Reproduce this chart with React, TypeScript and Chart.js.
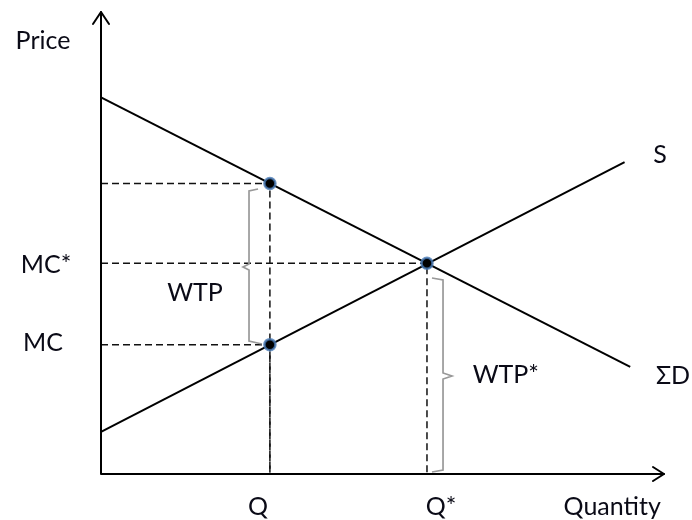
import React, { useEffect, useRef } from "react";
import { Chart, registerables } from "chart.js";

Chart.register(...registerables);

// Curves (quantity, price) in chart units
const demandX = [0, 94];
const demandY = [81.5, 23.2];
const supplyX = [0, 93];
const supplyY = [9.1, 67.5];

// Marked points: (Q, WTP), (Q, MC), (Q*, MC*)
const pointQ = [30, 30, 57.9];
const pointP = [62.9, 28.0, 45.6];

// Braces
const wtpBraceX = [27.89, 26.29, 26.29, 25.22, 26.29, 26.29, 28.6];
const wtpBraceY = [61.69, 61.26, 45.45, 44.81, 44.16, 28.79, 28.14];
const wtpStarBraceX = [58.79, 60.75, 60.75, 62.34, 60.75, 60.75, 58.79];
const wtpStarBraceY = [42.42, 41.99, 21.86, 21.21, 20.56, 0.87, 0.43];

// Text labels (baseline anchored)
const labelTexts = ["Price", "MC*", "MC", "WTP", "WTP*", "S", "ΣD", "Q", "Q*", "Quantity"];
const labelX = [-10.3, -9.77, -10.3, 16.7, 71.9, 99.3, 101.6, 27.9, 60.4, 90.8];
const labelY = [92.0, 43.5, 26.6, 37.4, 19.7, 67.3, 19.5, -8.9, -8.9, -8.9];

const toPts = (xs: number[], ys: number[]) => xs.map((x, i) => ({ x, y: ys[i] }));

const axesAndLabels = {
  id: "axesAndLabels",
  afterDraw(chart: any) {
    const { ctx, chartArea, scales } = chart;
    const { left, right, top, bottom } = chartArea;
    ctx.save();
    ctx.strokeStyle = "#000";
    ctx.lineWidth = 2;
    ctx.lineCap = "round";
    ctx.lineJoin = "round";
    // axes
    ctx.beginPath();
    ctx.moveTo(left, top);
    ctx.lineTo(left, bottom);
    ctx.lineTo(right, bottom);
    ctx.stroke();
    // arrow heads
    ctx.beginPath();
    ctx.moveTo(left - 8, top + 12);
    ctx.lineTo(left, top);
    ctx.lineTo(left + 8, top + 12);
    ctx.moveTo(right - 11, bottom - 7);
    ctx.lineTo(right, bottom);
    ctx.lineTo(right - 11, bottom + 7);
    ctx.stroke();
    // labels
    ctx.fillStyle = "#0a0a16";
    ctx.font = "25px Lato, 'Open Sans', sans-serif";
    ctx.textAlign = "center";
    ctx.textBaseline = "alphabetic";
    labelTexts.forEach((t, i) => {
      const px = scales.x.getPixelForValue(labelX[i]);
      const py = scales.y.getPixelForValue(labelY[i]);
      ctx.fillText(t, px, py);
    });
    ctx.restore();
  },
};

export default function App() {
  const canvasRef = useRef<HTMLCanvasElement | null>(null);

  useEffect(() => {
    let chart: Chart | null = null;
    let cancelled = false;
    const build = () => {
      if (cancelled || !canvasRef.current) return;
      const guides = pointQ.map((q, i) => ({
        type: "scatter" as const,
        data: [
          { x: 0, y: pointP[i] },
          { x: q, y: pointP[i] },
          { x: q, y: 0 },
        ],
        showLine: true,
        borderColor: "#111",
        borderWidth: 1.5,
        borderDash: [7, 4],
        pointRadius: 0,
        fill: false,
        order: 3,
        clip: false as any,
      }));
      chart = new Chart(canvasRef.current, {
        type: "scatter",
        data: {
          datasets: [
            {
              data: toPts(pointQ, pointP),
              pointRadius: 5.5,
              pointBackgroundColor: "#000",
              pointBorderColor: "rgba(70,120,180,0.8)",
              pointBorderWidth: 2.5,
              showLine: false,
              order: 0,
              clip: false as any,
            },
            {
              data: toPts(demandX, demandY),
              showLine: true,
              borderColor: "#000",
              borderWidth: 2,
              pointRadius: 0,
              order: 1,
              clip: false as any,
            },
            {
              data: toPts(supplyX, supplyY),
              showLine: true,
              borderColor: "#000",
              borderWidth: 2,
              pointRadius: 0,
              order: 1,
              clip: false as any,
            },
            ...guides,
            {
              data: toPts(wtpBraceX, wtpBraceY),
              showLine: true,
              borderColor: "#999",
              borderWidth: 1.7,
              pointRadius: 0,
              order: 2,
              clip: false as any,
            },
            {
              data: toPts(wtpStarBraceX, wtpStarBraceY),
              showLine: true,
              borderColor: "#999",
              borderWidth: 1.7,
              pointRadius: 0,
              order: 2,
              clip: false as any,
            },
          ] as any,
        },
        options: {
          responsive: false,
          animation: false,
          devicePixelRatio: 1,
          layout: { padding: { left: 101, right: 28, top: 12, bottom: 46 } },
          scales: {
            x: { type: "linear", min: 0, max: 100, display: false },
            y: { type: "linear", min: 0, max: 100, display: false },
          },
          plugins: {
            legend: { display: false },
            tooltip: { enabled: false },
          },
          events: [],
        },
        plugins: [axesAndLabels],
      });
    };
    if ((document as any).fonts && (document as any).fonts.load) {
      (document as any).fonts.load("25px Lato").then(build, build);
    } else {
      build();
    }
    return () => {
      cancelled = true;
      if (chart) chart.destroy();
    };
  }, []);

  return (
    <div style={{ position: "absolute", left: 0, top: 0, width: 692, height: 520, background: "#fff" }}>
      <canvas ref={canvasRef} width={692} height={520} />
    </div>
  );
}
